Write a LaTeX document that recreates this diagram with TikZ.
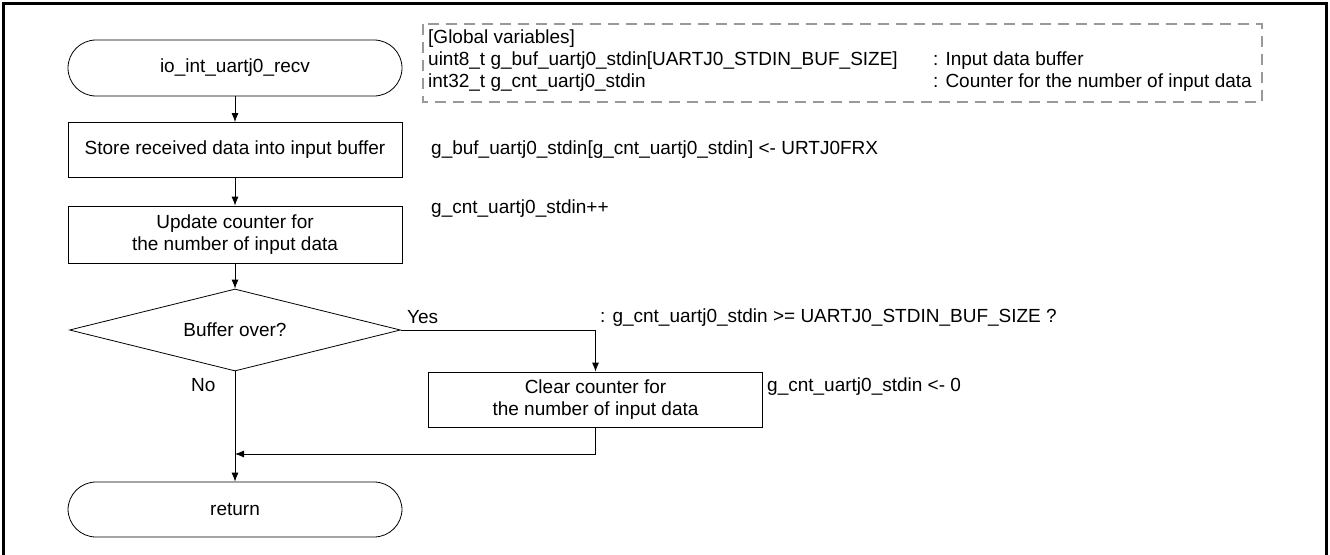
\documentclass[tikz,border=0pt]{standalone}
\usepackage{fontspec}
\setmainfont{Liberation Sans}
\usetikzlibrary{shapes.geometric,arrows.meta}
\begin{document}
\begin{tikzpicture}[x=1pt,y=-1pt,
	every node/.style={font=\fontsize{19}{22}\selectfont},
	term/.style={draw,line width=0.8pt,rounded corners=28pt,minimum width=334pt,minimum height=56pt},
	proc/.style={draw,line width=0.8pt,minimum width=334pt,minimum height=55pt,align=center},
	decide/.style={draw,line width=0.8pt,diamond,aspect=4,inner sep=0pt,minimum width=331pt,minimum height=82pt},
	note/.style={anchor=west,inner sep=0pt},
	flow/.style={line width=0.8pt,-{Latex[length=9pt,width=7pt]}}]
		\useasboundingbox (0,0) rectangle (1330,554);
		\draw [line width=3pt] (3.5,600)--(3.5,3.5)--(1326.5,3.5)--(1326.5,600);
		\draw [black!40,line width=2.5pt,dash pattern=on 11pt off 7pt] (423,24) rectangle (1262,102);
		\node[note] (glob) at (428,39) {[Global variables]};
		\node[note] (bufvar) at (428,61) {uint8\_t g\_buf\_uartj0\_stdin[UARTJ0\_STDIN\_BUF\_SIZE]};
		\node[note] (cntvar) at (428,83) {int32\_t g\_cnt\_uartj0\_stdin};
		\node[note] (bufdesc) at (933,61) {: Input data buffer};
		\node[note] (cntdesc) at (933,83) {: Counter for the number of input data};
		\node[term] (start) at (235,68) {io\_int\_uartj0\_recv};
		\node[proc] (store) at (235,150) {Store received data into input buffer};
		\node[proc, minimum height=57pt] (update) at (235,234.5) {Update counter for\\the number of input data};
		\node[decide] (check) at (235,330) {Buffer over?};
		\node[proc] (clear) at (595.5,399.5) {Clear counter for\\the number of input data};
		\node[term, minimum height=55pt] (return) at (235,509.5) {return};
		\coordinate (merge) at (235,454);
		\node[note] (storenote) at (431,150) {g\_buf\_uartj0\_stdin[g\_cnt\_uartj0\_stdin] <- URTJ0FRX};
		\node[note] (updnote) at (431,209) {g\_cnt\_uartj0\_stdin++};
		\node[note] (condnote) at (600,318) {: g\_cnt\_uartj0\_stdin >= UARTJ0\_STDIN\_BUF\_SIZE ?};
		\node[note] (clrnote) at (767,387) {g\_cnt\_uartj0\_stdin <- 0};
		\node[note] (yes) at (407,317) {Yes};
		\node[note] (no) at (191,385) {No};
		\draw [flow] (start)--(store);
		\draw [flow] (store)--(update);
		\draw [flow] (update)--(check);
		\draw [flow] (check.east)-|(clear.north);
		\draw [flow] (check.south)--(return.north);
		\draw [flow] (clear.south)|-(merge);
	\end{tikzpicture}
\end{document}
